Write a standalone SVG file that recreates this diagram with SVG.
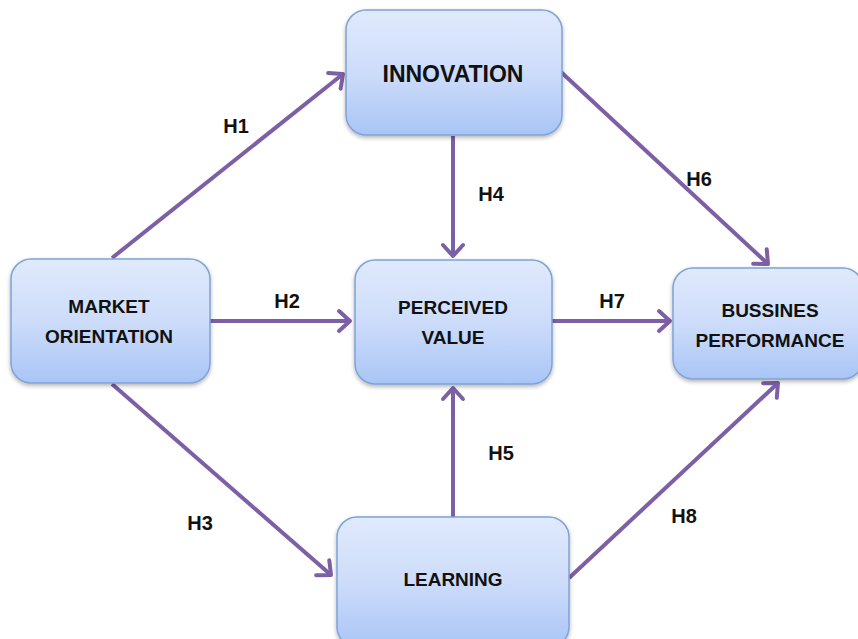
<svg xmlns="http://www.w3.org/2000/svg" width="858" height="639" viewBox="0 0 858 639">
<style>
.box{fill:url(#g);stroke:#7fa3d6;stroke-width:1.5;filter:url(#sh)}
.t{font-family:"Liberation Sans",Arial,sans-serif;font-weight:bold;fill:#111;text-anchor:middle}
.lbl{font-family:"Liberation Sans",Arial,sans-serif;font-weight:bold;font-size:20px;fill:#111;text-anchor:middle}
.c{stroke:#7d5fa6;stroke-width:4;fill:none;marker-end:url(#ah)}
</style>
<defs>
<linearGradient id="g" x1="0" y1="0" x2="0" y2="1">
<stop offset="0" stop-color="#e0eafc"/>
<stop offset="0.5" stop-color="#cddcfa"/>
<stop offset="1" stop-color="#a9c5f6"/>
</linearGradient>
<filter id="sh" x="-10%" y="-10%" width="120%" height="130%">
<feGaussianBlur in="SourceAlpha" stdDeviation="2"/>
<feOffset dy="2"/>
<feComponentTransfer><feFuncA type="linear" slope="0.3"/></feComponentTransfer>
<feMerge><feMergeNode/><feMergeNode in="SourceGraphic"/></feMerge>
</filter>
<marker id="ah" markerUnits="userSpaceOnUse" markerWidth="30" markerHeight="30" viewBox="-16 -15 20 30" refX="0" refY="0" orient="auto">
<path d="M-11 -10 L0 0 L-11 10" fill="none" stroke="#7d5fa6" stroke-width="4" stroke-linecap="round" stroke-linejoin="round"/>
</marker>
</defs>
<g id="connectors">
<line class="c" x1="112" y1="258" x2="343" y2="74"/>
<line class="c" x1="210" y1="321" x2="350" y2="321"/>
<line class="c" x1="112" y1="384" x2="331" y2="575"/>
<line class="c" x1="453" y1="136" x2="453" y2="256"/>
<line class="c" x1="453" y1="517" x2="453" y2="388"/>
<line class="c" x1="561" y1="72" x2="768" y2="264"/>
<line class="c" x1="552" y1="321" x2="670" y2="321"/>
<line class="c" x1="569" y1="578" x2="778" y2="383"/>
</g>
<g id="labels">
<text class="lbl" x="236" y="133">H1</text>
<text class="lbl" x="287" y="308">H2</text>
<text class="lbl" x="200" y="530">H3</text>
<text class="lbl" x="491" y="201">H4</text>
<text class="lbl" x="501" y="460">H5</text>
<text class="lbl" x="699" y="186">H6</text>
<text class="lbl" x="612" y="308">H7</text>
<text class="lbl" x="684" y="523">H8</text>
</g>
<g id="innovation">
<rect class="box" x="346" y="10" width="216" height="125" rx="20"/>
<text class="t" x="453" y="82" font-size="23">INNOVATION</text>
</g>
<g id="market-orientation">
<rect class="box" x="11" y="259" width="199" height="124" rx="20"/>
<text class="t" x="109" y="313" font-size="19">MARKET</text>
<text class="t" x="109" y="343" font-size="19">ORIENTATION</text>
</g>
<g id="perceived-value">
<rect class="box" x="355" y="260" width="197" height="124" rx="20"/>
<text class="t" x="453" y="314" font-size="19">PERCEIVED</text>
<text class="t" x="453" y="344" font-size="19">VALUE</text>
</g>
<g id="bussines-performance">
<rect class="box" x="673" y="268" width="190" height="111" rx="20"/>
<text class="t" x="770" y="317" font-size="19">BUSSINES</text>
<text class="t" x="770" y="347" font-size="19">PERFORMANCE</text>
</g>
<g id="learning">
<rect class="box" x="337" y="517" width="232" height="130" rx="20"/>
<text class="t" x="453" y="586" font-size="19">LEARNING</text>
</g>
</svg>
